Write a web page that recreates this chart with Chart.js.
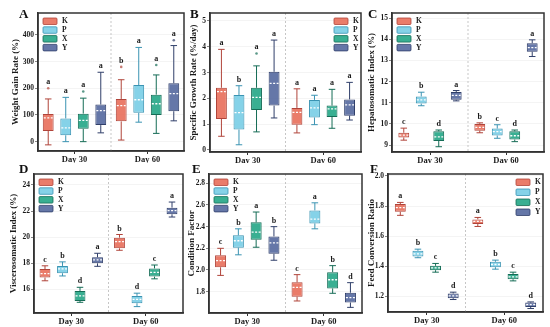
<!DOCTYPE html>
<html>
<head>
<meta charset="utf-8">
<script src="https://cdn.jsdelivr.net/npm/chart.js@4.4.0/dist/chart.umd.min.js"></script>
<style>
  body { margin: 0; background: #fff; width: 550px; height: 327px; position: relative; overflow: hidden; }
  canvas { position: absolute; }
  .tag { position: absolute; font: bold 13px "Liberation Serif", serif; line-height: 1; color: #111; }
</style>
</head>
<body>
<canvas id="cA" width="186" height="163" style="left:0;top:0"></canvas>
<canvas id="cB" width="180" height="163" style="left:186px;top:0"></canvas>
<canvas id="cC" width="184" height="163" style="left:366px;top:0"></canvas>
<canvas id="cD" width="186" height="164" style="left:0;top:163px"></canvas>
<canvas id="cE" width="180" height="164" style="left:186px;top:163px"></canvas>
<canvas id="cF" width="184" height="164" style="left:366px;top:163px"></canvas>
<div class="tag" style="left:19px;top:7px">A</div>
<div class="tag" style="left:190px;top:7px">B</div>
<div class="tag" style="left:368px;top:7px">C</div>
<div class="tag" style="left:19px;top:162px">D</div>
<div class="tag" style="left:192px;top:162px">E</div>
<div class="tag" style="left:370px;top:162px">F</div>
<script>
// groups and treatments
const groups = ['Day 30', 'Day 60'];
const series = ['K', 'P', 'X', 'Y'];

// each box: [low whisker, Q1, median, Q3, high whisker] for Day 30, Day 60
// A - weight gain rate
const wgrK = [[-12, 40, 89, 104, 160], [6, 76, 135, 160, 232]];
const wgrP = [[0, 24, 52, 87, 166], [73, 108, 157, 212, 353]];
const wgrX = [[0, 48, 80, 105, 163], [31, 100, 142, 176, 250]];
const wgrY = [[33, 62, 116, 139, 260], [78, 114, 180, 219, 360]];
const wgrOut = [[[200], [280]], [[], []], [[188], [287]], [[], [380]]];
const wgrLetters = [['a', 'b'], ['a', 'a'], ['a', 'a'], ['a', 'a']];
const wgrTicks = [0, 100, 200, 300, 400];

// B - specific growth rate
const sgrK = [[0.53, 1.2, 2.26, 2.41, 3.9], [0.66, 0.98, 1.46, 1.63, 2.37]];
const sgrP = [[0.2, 0.79, 1.45, 2.13, 2.49], [0.98, 1.26, 1.63, 1.94, 2.12]];
const sgrX = [[0.7, 1.55, 2.04, 2.41, 3.26], [0.84, 1.28, 1.59, 1.72, 2.35]];
const sgrY = [[1.24, 1.72, 2.58, 3.03, 4.26], [1.16, 1.33, 1.75, 1.96, 2.62]];
const sgrOut = [[[], []], [[], []], [[3.74], []], [[], []]];
const sgrLetters = [['a', 'a'], ['b', 'a'], ['a', 'a'], ['a', 'a']];
const sgrTicks = [0, 1, 2, 3, 4, 5];

// C - hepatosomatic index
const hsiK = [[9.23, 9.36, 9.47, 9.58, 9.8], [9.58, 9.68, 9.84, 10.0, 10.05]];
const hsiP = [[10.86, 10.96, 11.14, 11.3, 11.5], [9.32, 9.45, 9.63, 9.78, 9.96]];
const hsiX = [[8.92, 9.19, 9.39, 9.65, 9.71], [9.16, 9.26, 9.44, 9.65, 9.71]];
const hsiY = [[11.09, 11.14, 11.35, 11.51, 11.58], [13.19, 13.42, 13.61, 13.82, 13.98]];
const hsiLetters = [['c', 'b'], ['b', 'c'], ['d', 'd'], ['a', 'a']];
const hsiTicks = [9, 10, 11, 12, 13, 14, 15];

// D - viscerosomatic index
const vsiK = [[16.65, 16.9, 17.2, 17.55, 17.8], [18.99, 19.14, 19.65, 19.96, 20.2]];
const vsiP = [[17.02, 17.23, 17.56, 17.79, 18.1], [14.67, 14.93, 15.23, 15.49, 15.7]];
const vsiX = [[15.0, 15.1, 15.5, 15.87, 16.15], [16.8, 16.97, 17.3, 17.6, 17.86]];
const vsiY = [[17.76, 17.99, 18.25, 18.45, 18.76], [21.54, 21.75, 22.03, 22.26, 22.69]];
const vsiLetters = [['c', 'b'], ['b', 'd'], ['d', 'c'], ['a', 'a']];
const vsiTicks = [16, 18, 20, 22, 24];

// E - condition factor
const cfK = [[1.95, 2.025, 2.086, 2.135, 2.2], [1.714, 1.754, 1.84, 1.886, 1.957]];
const cfP = [[2.14, 2.206, 2.27, 2.32, 2.38], [2.38, 2.43, 2.47, 2.55, 2.62]];
const cfX = [[2.21, 2.28, 2.35, 2.44, 2.535], [1.785, 1.83, 1.91, 1.98, 2.04]];
const cfY = [[2.09, 2.15, 2.25, 2.31, 2.40], [1.655, 1.70, 1.745, 1.79, 1.883]];
const cfLetters = [['c', 'c'], ['b', 'a'], ['a', 'b'], ['b', 'd']];
const cfTicks = [1.8, 2.0, 2.2, 2.4, 2.6, 2.8];

// F - feed conversion ratio
const fcrK = [[1.738, 1.762, 1.789, 1.813, 1.824], [1.664, 1.68, 1.698, 1.711, 1.724]];
const fcrP = [[1.456, 1.464, 1.482, 1.502, 1.513], [1.38, 1.393, 1.411, 1.429, 1.44]];
const fcrX = [[1.36, 1.373, 1.389, 1.402, 1.418], [1.302, 1.313, 1.329, 1.347, 1.36]];
const fcrY = [[1.178, 1.187, 1.202, 1.218, 1.227], [1.118, 1.129, 1.144, 1.158, 1.162]];
const fcrLetters = [['a', 'a'], ['b', 'b'], ['c', 'c'], ['d', 'd']];
const fcrTicks = [1.2, 1.4, 1.6, 1.8, 2.0];

const fills = ['rgba(232,110,90,0.9)', 'rgba(120,205,230,0.9)', 'rgba(36,166,134,0.9)', 'rgba(84,104,158,0.9)'];
const lines = ['#b0443a', '#3a93b2', '#156c56', '#303f6a'];

Chart.defaults.font.family = '"Liberation Serif", serif';
Chart.defaults.font.weight = 'bold';
Chart.defaults.font.size = 8;
Chart.defaults.color = '#1a1a1a';

// whiskers, medians, outliers, letters and frame
const boxPlugin = {
  id: 'boxes',
  beforeDatasetsDraw(chart) {
    const ctx = chart.ctx, a = chart.chartArea, xs = chart.scales.x;
    const mid = (xs.getPixelForValue(0) + xs.getPixelForValue(1)) / 2;
    ctx.save();
    ctx.strokeStyle = '#b8b8b8';
    ctx.lineWidth = 0.8;
    ctx.setLineDash([2, 2]);
    ctx.beginPath();
    ctx.moveTo(mid, a.top);
    ctx.lineTo(mid, a.bottom);
    ctx.stroke();
    ctx.restore();
  },
  afterDatasetsDraw(chart) {
    const ctx = chart.ctx, ys = chart.scales.y, a = chart.chartArea;
    const py = v => ys.getPixelForValue(v);
    ctx.save();
    chart.data.datasets.forEach((ds, i) => {
      chart.getDatasetMeta(i).data.forEach((bar, j) => {
        const [lo, q1, med, q3, hi] = ds.stats[j];
        const bx = bar.x, hw = bar.width / 2;
        ctx.setLineDash([]);
        ctx.strokeStyle = ds.borderColor;
        ctx.lineWidth = 1;
        ctx.beginPath();
        ctx.moveTo(bx, py(q3)); ctx.lineTo(bx, py(hi));
        ctx.moveTo(bx, py(q1)); ctx.lineTo(bx, py(lo));
        ctx.moveTo(bx - hw * 0.6, py(hi)); ctx.lineTo(bx + hw * 0.6, py(hi));
        ctx.moveTo(bx - hw * 0.6, py(lo)); ctx.lineTo(bx + hw * 0.6, py(lo));
        ctx.stroke();
        ctx.strokeStyle = '#fff';
        ctx.lineWidth = 1.3;
        ctx.setLineDash([2, 1.5]);
        ctx.beginPath();
        ctx.moveTo(bx - hw + 1, py(med)); ctx.lineTo(bx + hw - 1, py(med));
        ctx.stroke();
        const outs = ds.outliers[j];
        ctx.fillStyle = ds.borderColor;
        ctx.globalAlpha = 0.7;
        outs.forEach(v => {
          ctx.beginPath();
          ctx.arc(bx, py(v), 1.3, 0, Math.PI * 2);
          ctx.fill();
        });
        ctx.globalAlpha = 1;
        const top = Math.min(py(hi), ...outs.map(py));
        ctx.fillStyle = '#1a1a1a';
        ctx.font = 'bold 8px "Liberation Serif", serif';
        ctx.textAlign = 'center';
        ctx.textBaseline = 'alphabetic';
        ctx.fillText(ds.letters[j], bx, top - 4);
      });
    });
    ctx.setLineDash([]);
    ctx.strokeStyle = '#333';
    ctx.lineWidth = 1.5;
    ctx.strokeRect(a.left, a.top, a.right - a.left, a.bottom - a.top);
    ctx.restore();
  },
  afterDraw(chart, args, opts) {
    const ctx = chart.ctx, a = chart.chartArea;
    const x0 = opts.side === 'left' ? a.left + 5 : a.right - 27;
    ctx.save();
    ctx.font = 'bold 7.5px "Liberation Serif", serif';
    ctx.textAlign = 'left';
    ctx.textBaseline = 'middle';
    series.forEach((s, i) => {
      const yc = a.top + 8 + i * opts.gap;
      ctx.fillStyle = fills[i];
      ctx.strokeStyle = lines[i];
      ctx.lineWidth = 0.8;
      ctx.beginPath();
      ctx.roundRect(x0, yc - 3, 14, 6.5, 1);
      ctx.fill();
      ctx.stroke();
      ctx.fillStyle = '#1a1a1a';
      ctx.fillText(s, x0 + 19, yc + 0.5);
    });
    ctx.restore();
  }
};

function boxPanel(id, stats, outliers, letters, ticks, p) {
  const datasets = series.map((s, i) => ({
    label: s,
    data: stats[i].map(v => [v[1], v[3]]),
    stats: stats[i],
    outliers: outliers ? outliers[i] : [[], []],
    letters: letters[i],
    backgroundColor: fills[i],
    borderColor: lines[i],
    borderWidth: 1,
    borderSkipped: false,
    categoryPercentage: p.cp,
    barPercentage: 0.62
  }));
  new Chart(document.getElementById(id), {
    type: 'bar',
    data: { labels: groups, datasets: datasets },
    options: {
      responsive: false,
      animation: false,
      devicePixelRatio: 1,
      layout: { padding: p.pad },
      plugins: {
        legend: { display: false },
        tooltip: { enabled: false },
        boxes: { side: p.legend, gap: p.gap || 8.8 }
      },
      scales: {
        x: {
          grid: { display: true, drawOnChartArea: false, offset: false, tickLength: 3, tickColor: '#333' },
          border: { color: '#333', width: 1.5 },
          ticks: { padding: 1, font: { size: 8.5 } },
          afterFit: s => { s.height = p.xh; }
        },
        y: {
          min: p.min,
          max: p.max,
          afterBuildTicks: s => { s.ticks = ticks.map(v => ({ value: v })); },
          grid: { color: '#ededed', lineWidth: 0.6, tickLength: 3, tickColor: '#333' },
          border: { color: '#333', width: 1.5 },
          ticks: { padding: 1, font: { size: 7.5 }, callback: v => v.toFixed(p.dec || 0) },
          title: { display: true, text: p.title, font: { size: 9 }, padding: { top: 0, bottom: 0 } },
          afterFit: s => { s.width = p.yw; }
        }
      }
    },
    plugins: [boxPlugin]
  });
}

boxPanel('cA', [wgrK, wgrP, wgrX, wgrY], wgrOut, wgrLetters, wgrTicks,
  { title: 'Weight Gain Rate (%)', min: -35, max: 482, pad: { left: 10, top: 13, right: 2, bottom: 0 }, yw: 28, xh: 12, cp: 0.96, legend: 'left' });
boxPanel('cB', [sgrK, sgrP, sgrX, sgrY], sgrOut, sgrLetters, sgrTicks,
  { title: 'Specific Growth Rate (%/day)', min: -0.08, max: 5.31, pad: { left: 2, top: 13, right: 5, bottom: 0 }, yw: 22, xh: 11, cp: 0.93, legend: 'right' });
boxPanel('cC', [hsiK, hsiP, hsiX, hsiY], null, hsiLetters, hsiTicks,
  { title: 'Hepatosomatic Index (%)', min: 8.67, max: 15.25, pad: { left: 0, top: 13, right: 6, bottom: 0 }, yw: 26, xh: 11, cp: 0.92, legend: 'left' });
boxPanel('cD', [vsiK, vsiP, vsiX, vsiY], null, vsiLetters, vsiTicks,
  { title: 'Viscerosomatic Index (%)', min: 14.18, max: 24.84, pad: { left: 8, top: 11, right: 3, bottom: 0 }, yw: 26, xh: 14, cp: 0.94, legend: 'left' });
boxPanel('cE', [cfK, cfP, cfX, cfY], null, cfLetters, cfTicks,
  { title: 'Condition Factor', min: 1.603, max: 2.886, pad: { left: 0, top: 11, right: 4, bottom: 0 }, yw: 23, xh: 14, cp: 0.93, legend: 'left', dec: 1 });
boxPanel('cF', [fcrK, fcrP, fcrX, fcrY], null, fcrLetters, fcrTicks,
  { title: 'Feed Conversion Ratio', min: 1.095, max: 2.013, pad: { left: 0, top: 11, right: 7, bottom: 0 }, yw: 22, xh: 15, cp: 0.91, legend: 'right', dec: 1, gap: 10 });
</script>
</body>
</html>
